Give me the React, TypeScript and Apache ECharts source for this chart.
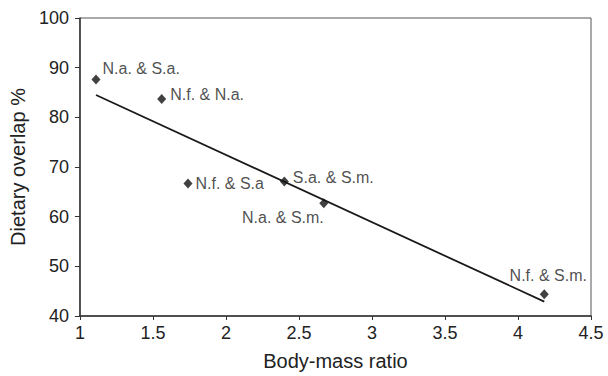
import React, { useEffect, useRef } from "react";
import * as echarts from "echarts";

const pairNames = ["N.a. & S.a.", "N.f. & N.a.", "N.f. & S.a", "S.a. & S.m.", "N.a. & S.m.", "N.f. & S.m."];
const bodyMassRatio = [1.11, 1.56, 1.74, 2.4, 2.67, 4.18];
const dietaryOverlap = [87.6, 83.7, 66.7, 67.1, 62.7, 44.4];
const trendX = [1.11, 4.18];
const trendY = [84.5, 42.9];
const xTicks = [1, 1.5, 2, 2.5, 3, 3.5, 4, 4.5];
const yTicks = [40, 50, 60, 70, 80, 90, 100];

const FONT = "'Liberation Sans', Arial, Helvetica, sans-serif";

export default function App() {
  const ref = useRef<HTMLDivElement>(null);
  useEffect(() => {
    if (!ref.current) return;
    const chart = echarts.init(ref.current, undefined, { renderer: "svg" });
    const labelCfg: any[] = [
      { position: "right", distance: 2, offset: [0, -11] },
      { position: "right", distance: 4, offset: [0, -4] },
      { position: "right", distance: 3, offset: [0, 0] },
      { position: "right", distance: 4, offset: [0, -4] },
      { position: "bottom", distance: 1, align: "right", offset: [0, 0] },
      { position: "top", distance: 6, offset: [4, 0] },
    ];
    const data = bodyMassRatio.map((x, i) => ({
      value: [x, dietaryOverlap[i]],
      name: pairNames[i],
      label: { show: true, formatter: pairNames[i], ...labelCfg[i] },
    }));
    chart.setOption({
      animation: false,
      backgroundColor: "#ffffff",
      grid: {
        left: 77,
        right: 17,
        top: 18,
        bottom: 55,
        show: true,
        borderColor: "#555",
        borderWidth: 1,
        backgroundColor: "transparent",
      },
      xAxis: {
        type: "value",
        min: xTicks[0],
        max: xTicks[xTicks.length - 1],
        interval: 0.5,
        name: "Body-mass ratio",
        nameLocation: "middle",
        nameGap: 35,
        nameTextStyle: { fontFamily: FONT, fontSize: 20, color: "#222" },
        axisLine: { show: true, lineStyle: { color: "#333", width: 1.5 } },
        axisTick: { show: true, length: 4, lineStyle: { color: "#333" } },
        axisLabel: { fontFamily: FONT, fontSize: 18, color: "#222", margin: 8 },
        splitLine: { show: false },
      },
      yAxis: {
        type: "value",
        min: yTicks[0],
        max: yTicks[yTicks.length - 1],
        interval: 10,
        name: "Dietary overlap %",
        nameLocation: "middle",
        nameGap: 49,
        nameTextStyle: { fontFamily: FONT, fontSize: 20, color: "#222" },
        axisLine: { show: true, lineStyle: { color: "#333", width: 1.5 } },
        axisTick: { show: true, length: 5, lineStyle: { color: "#333" } },
        axisLabel: { fontFamily: FONT, fontSize: 18, color: "#222", margin: 11 },
        splitLine: { show: false },
      },
      series: [
        {
          type: "line",
          data: trendX.map((x, i) => [x, trendY[i]]),
          showSymbol: false,
          symbol: "none",
          lineStyle: { color: "#1a1a1a", width: 1.8 },
          silent: true,
          z: 1,
        },
        {
          type: "scatter",
          data,
          symbol: "diamond",
          symbolSize: [9, 10],
          itemStyle: { color: "#111" },
          label: { fontFamily: FONT, fontSize: 16, color: "#222" },
          z: 2,
        },
      ],
    });
    return () => chart.dispose();
  }, []);
  return <div ref={ref} style={{ width: 608, height: 376, position: "absolute", left: 0, top: 0 }} />;
}
